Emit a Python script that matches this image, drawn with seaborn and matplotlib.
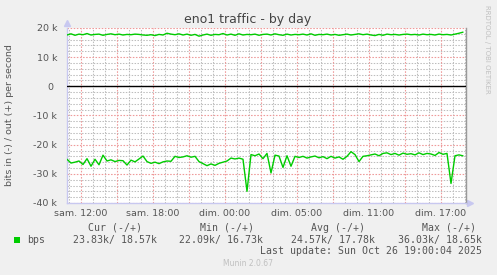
import numpy as np
import pandas as pd
import matplotlib
matplotlib.use("Agg")
import matplotlib.pyplot as plt
from matplotlib.patches import Rectangle
import seaborn as sns

# ---------------- data ----------------
title = "eno1 traffic - by day"
ylabel = "bits in (-) / out (+) per second"
tick_hours = [0, 6, 12, 18, 24, 30]
tick_labels = ["sam. 12:00", "sam. 18:00", "dim. 00:00", "dim. 05:00", "dim. 11:00", "dim. 17:00"]
ytick_values = [-40000, -30000, -20000, -10000, 0, 10000, 20000]
ytick_labels = ["-40 k", "-30 k", "-20 k", "-10 k", "0 ", "10 k", "20 k"]

start_hour = -1.14          # first sample, hours relative to sam. 12:00
sample_step = 1.0 / 3.0     # 20-minute samples

bps_in_k = [
    -25.0, -26.3, -26.0, -25.6, -26.8,
    -24.8, -27.4, -25.0, -26.9, -23.6,
    -25.6, -25.2, -25.8, -25.4, -25.5, -27.0, -25.3, -25.9, -24.9, -23.9,
    -25.8, -26.4, -26.0, -26.5, -25.9, -25.6,
    -25.7, -24.0, -24.4, -24.2, -23.8, -24.3, -24.0,
    -25.8, -26.5, -27.2, -26.6, -27.1, -26.4,
    -26.0, -25.6, -24.6, -24.9, -24.6, -25.0,
    -36.0,
    -23.4, -23.8, -23.2, -24.8, -23.0,
    -29.7,
    -23.6, -23.9, -27.8,
    -23.8, -27.4, -24.0,
    -24.4, -24.0, -24.6, -24.2, -23.9, -24.5, -24.1, -24.8, -24.0, -24.6, -24.2, -25.0, -24.0,
    -22.4, -23.4, -25.8, -24.0, -23.8,
    -23.5, -23.2, -23.8, -23.0, -22.8, -23.4, -23.0, -23.6, -22.9, -23.3,
    -23.1, -23.5, -22.8, -23.4, -23.0, -23.2, -23.7, -22.7, -23.3, -23.0,
    -33.3,
    -23.8, -23.5, -23.83,
]

bps_out_k = [
    17.6, 18.0, 17.5, 17.9, 17.7, 18.1, 17.6, 17.8, 17.9, 17.5,
    17.8, 18.0, 17.7, 17.9, 17.6, 17.8, 17.7, 17.9, 17.8, 17.6,
    17.5, 17.7, 17.4, 17.8, 17.6, 18.2, 17.9, 17.7, 18.0, 17.6,
    17.9, 17.5, 17.8, 17.2, 17.6, 17.9, 17.5, 17.8, 17.7, 18.1,
    17.6, 17.9, 17.5, 18.0, 17.6, 17.8, 17.7, 17.9, 17.5, 17.8,
    17.9, 17.6, 18.0, 17.7, 17.5, 17.9, 17.6, 17.8, 17.7, 17.9,
    17.6, 18.0, 17.5, 17.8, 17.7, 17.9, 17.6, 17.8, 17.5, 17.7,
    17.9, 17.6, 17.8, 18.0, 17.7, 17.9, 17.6, 17.4, 17.8, 17.5,
    17.9, 17.7, 17.8, 17.6, 17.8, 17.9, 17.7, 17.8, 17.6, 17.9,
    17.7, 17.8, 17.6, 17.9, 17.7, 17.8, 17.6, 17.9, 18.2, 18.57,
]

legend_headers = ["Cur (-/+)", "Min (-/+)", "Avg (-/+)", "Max (-/+)"]
legend_values = ["23.83k/ 18.57k", "22.09k/ 16.73k", "24.57k/ 17.78k", "36.03k/ 18.65k"]
series_name = "bps"
last_update = "Last update: Sun Oct 26 19:00:04 2025"
footer = "Munin 2.0.67"
watermark = "RRDTOOL / TOBI OETIKER"

# ---------------- figure ----------------
W, H = 497, 275
sns.set_style("white")
plt.rcParams["font.family"] = ["DejaVu Sans"]

fig = plt.figure(figsize=(W / 100, H / 100), dpi=100, facecolor="#F0F0F0")

def fx(x):
    return x / W

def fy(y):
    return 1 - y / H

L, R, T, B = 67, 466, 28, 203
ax = fig.add_axes([fx(L), fy(B), (R - L) / W, (B - T) / H])
ax.set_facecolor("white")

n = len(bps_out_k)
hours = start_hour + sample_step * np.arange(n)
df = pd.DataFrame({
    "hour": np.concatenate([hours, hours]),
    "bps": np.concatenate([np.array(bps_out_k) * 1000, np.array(bps_in_k) * 1000]),
    "dir": ["out"] * n + ["in"] * n,
})

# grid
minor_color = "#BDBDBD"
major_color = "#EE9A9A"
dots = (0, (1.4, 1.4))
for h in np.arange(-1, 33, 1):
    if h % 3 != 0:
        ax.axvline(h, color=minor_color, lw=0.75, ls=dots, zorder=0)
for v in np.arange(-40000, 20001, 2000):
    if v % 10000 != 0:
        ax.axhline(v, color=minor_color, lw=0.75, ls=dots, zorder=0)
for h in np.arange(0, 33, 3):
    ax.axvline(h, color=major_color, lw=0.8, ls=dots, zorder=1)
for v in ytick_values:
    ax.axhline(v, color=major_color, lw=0.8, ls=dots, zorder=1)

ax.axhline(0, color="black", lw=1.0, zorder=3)

sns.lineplot(data=df, x="hour", y="bps", units="dir", estimator=None,
             color="#00CC00", lw=1.0, ax=ax, zorder=4, legend=False)

ax.set_xlim(start_hour, start_hour + 399 / 12)
ax.set_ylim(-40000, 20000)
ax.set_xticks(tick_hours)
ax.set_xticklabels(tick_labels)
ax.set_yticks(ytick_values)
ax.set_yticklabels(ytick_labels)
ax.set_xlabel("")
ax.set_ylabel("")
ax.tick_params(axis="both", length=0, labelsize=6.8, labelcolor="#555555")
ax.tick_params(axis="x", pad=4)
ax.tick_params(axis="y", pad=7)

ax.spines["top"].set_visible(False)
ax.spines["left"].set_color("#C8C8F0")
ax.spines["bottom"].set_color("#C8C8F0")
ax.spines["right"].set_color("#999999")
for s in ["left", "bottom", "right"]:
    ax.spines[s].set_linewidth(1.0)

# axis arrows
ax.plot([0], [1.03], marker="^", color="#C8C8F0", ms=4, transform=ax.transAxes, clip_on=False)
ax.plot([1.01], [0], marker=">", color="#C8C8F0", ms=4, transform=ax.transAxes, clip_on=False)

# texts
fig.text(fx(248), fy(19), title, ha="center", va="center", fontsize=9, color="#444444")
fig.text(fx(10), fy(115.5), ylabel, ha="center", va="center", rotation=90,
         fontsize=6.8, color="#555555")
fig.text(fx(487), fy(5), watermark, ha="center", va="top", rotation=270,
         fontsize=5, color="#C0C0C0")

mono = "DejaVu Sans Mono"
fs = 7.1
header_right = [142, 254.5, 365, 476]
value_right = [156.7, 263, 375, 482]
for htxt, vtxt, hx, vx in zip(legend_headers, legend_values, header_right, value_right):
    fig.text(fx(hx), fy(228), htxt, ha="right", va="center", fontsize=fs,
             family=mono, color="#555555")
    fig.text(fx(vx), fy(240), vtxt, ha="right", va="center", fontsize=fs,
             family=mono, color="#555555")
fig.text(fx(27), fy(240), series_name, ha="left", va="center", fontsize=fs,
         family=mono, color="#555555")
fig.patches.append(Rectangle((fx(14), fy(242.5)), 6 / W, 6 / H, transform=fig.transFigure,
                             facecolor="#00CC00", edgecolor="none"))
fig.text(fx(482), fy(251.5), last_update, ha="right", va="center", fontsize=fs,
         family=mono, color="#555555")
fig.text(fx(248), fy(264), footer, ha="center", va="center", fontsize=5.5,
         color="#C0C0C0")

fig.savefig("out.png", dpi=100, facecolor=fig.get_facecolor())
